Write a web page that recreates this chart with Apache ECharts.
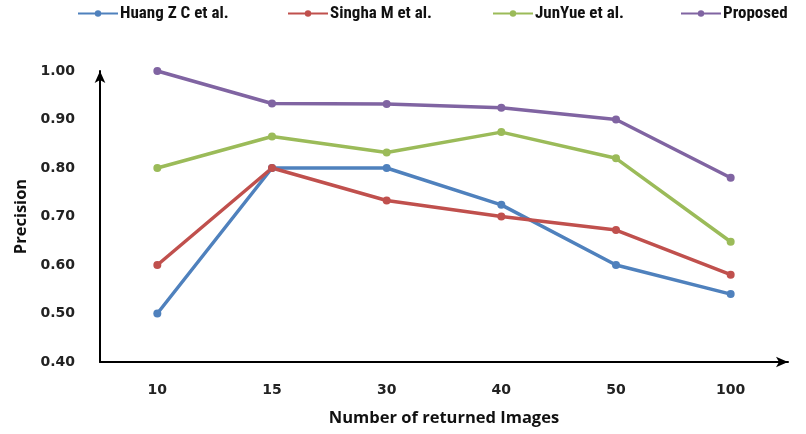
<!DOCTYPE html>
<html>
<head>
<meta charset="utf-8">
<script src="https://cdn.jsdelivr.net/npm/echarts@6/dist/echarts.min.js"></script>
<style>
  html, body { margin: 0; padding: 0; background: #fff; }
  #main { width: 806px; height: 434px; }
</style>
</head>
<body>
<div id="main"></div>
<script>
var categories = ['10', '15', '30', '40', '50', '100'];
var seriesNames = ['Huang Z C et al.', 'Singha M et al.', 'JunYue et al.', 'Proposed'];
var huang = [0.50, 0.80, 0.80, 0.724, 0.60, 0.54];
var singha = [0.60, 0.80, 0.733, 0.70, 0.672, 0.58];
var junyue = [0.80, 0.865, 0.832, 0.874, 0.82, 0.648];
var proposed = [1.00, 0.933, 0.932, 0.924, 0.90, 0.78];
var colors = ['#4F81BD', '#C0504D', '#9BBB59', '#8064A2'];

var chart = echarts.init(document.getElementById('main'));
var narrow = '"Liberation Sans Narrow", "Roboto Condensed", "Liberation Sans", sans-serif';
var humanist = '"Open Sans", "Noto Sans", sans-serif';
var numFont = '"DejaVu Sans", Verdana, sans-serif';
var legendLeft = [77, 287, 492, 680];

function legendFor(i) {
  return {
    data: [seriesNames[i]],
    left: legendLeft[i],
    top: 5,
    padding: 0,
    itemWidth: 40,
    itemHeight: 8,
    itemGap: 2,
    textStyle: { fontFamily: narrow, fontWeight: 'bold', fontSize: 17, color: '#111', padding: [0, 0, 0, -3] }
  };
}

function line(i, data) {
  return {
    name: seriesNames[i],
    type: 'line',
    data: data,
    symbol: 'circle',
    symbolSize: 8,
    color: colors[i],
    lineStyle: { width: 3.5 },
    itemStyle: { color: colors[i] }
  };
}

chart.setOption({
  animation: false,
  color: colors,
  legend: [legendFor(0), legendFor(1), legendFor(2), legendFor(3)],
  grid: { left: 100, right: 18, top: 71, bottom: 72, outerBoundsMode: 'none' },
  xAxis: {
    type: 'category',
    data: categories,
    boundaryGap: true,
    name: 'Number of returned Images',
    nameLocation: 'middle',
    nameGap: 48,
    nameTextStyle: { fontFamily: humanist, fontWeight: 'bold', fontSize: 16.5, color: '#111' },
    axisLine: { lineStyle: { color: '#000', width: 2 }, symbol: ['none', 'arrow'], symbolSize: [8, 12] },
    axisTick: { show: false },
    axisLabel: { margin: 21, fontFamily: numFont, fontWeight: 'bold', fontSize: 14, color: '#222' }
  },
  yAxis: {
    type: 'value',
    min: 0.4,
    max: 1.0,
    interval: 0.1,
    name: 'Precision',
    nameLocation: 'middle',
    nameGap: 69,
    nameRotate: 90,
    nameTextStyle: { fontFamily: humanist, fontWeight: 'bold', fontSize: 16.5, color: '#111' },
    axisLine: { show: true, lineStyle: { color: '#000', width: 2 }, symbol: ['none', 'arrow'], symbolSize: [8, 12] },
    axisTick: { show: false },
    splitLine: { show: false },
    axisLabel: {
      margin: 25,
      fontFamily: numFont, fontWeight: 'bold', fontSize: 14, color: '#222',
      formatter: function (v) { return v.toFixed(2); }
    }
  },
  series: [line(0, huang), line(1, singha), line(2, junyue), line(3, proposed)]
});
</script>
</body>
</html>
